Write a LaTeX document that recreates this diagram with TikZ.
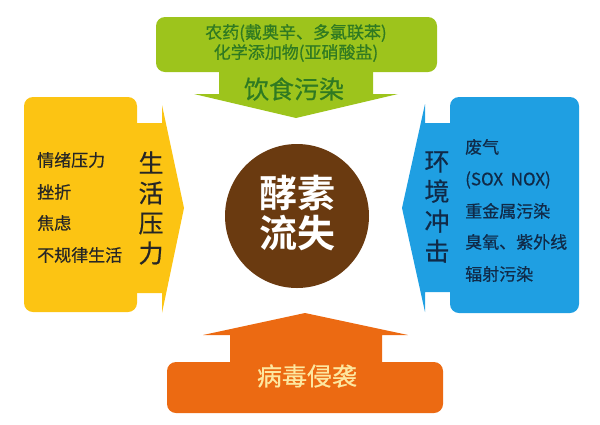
\documentclass[tikz,border=0pt]{standalone}
\usepackage{fontspec}
\newfontfamily\cjk[FakeBold=0.6]{Noto Sans CJK SC}
\newfontfamily\cjkb{Noto Sans CJK SC Bold}
\definecolor{fgreen}{HTML}{9DC41C}
\definecolor{tgreen}{HTML}{2F7A22}
\definecolor{fyellow}{HTML}{FCC413}
\definecolor{fblue}{HTML}{1F9FE2}
\definecolor{tblue}{HTML}{102A48}
\definecolor{forange}{HTML}{EC6A12}
\definecolor{torange}{HTML}{FDE7A0}
\definecolor{fbrown}{HTML}{6A3A10}
\tikzset{
  boxfill/.style={rounded corners=9pt},
  lbl/.style={inner sep=0pt, font=\cjk\fontsize{17}{17}\selectfont},
  big/.style={inner sep=0pt, font=\cjk\fontsize{25}{25}\selectfont},
  vert/.style={inner sep=0pt, align=center, font=\cjk\fontsize{25}{30}\selectfont},
}
\begin{document}
\begin{tikzpicture}[x=1pt,y=-1pt]
\useasboundingbox (0,0) rectangle (600,424);
% green (top)
\fill[fgreen, boxfill] (156,17) rectangle (437,72);
\fill[fgreen] (219,65) -- (373,65) -- (373,94) -- (398,94) -- (296,118) -- (194,94) -- (219,94) -- cycle;
% yellow (left)
\fill[fyellow, boxfill] (24,97) rectangle (137,312);
\fill[fyellow] (130,123) -- (162,123) -- (162,105) -- (184,208) -- (162,313) -- (162,293) -- (130,293) -- cycle;
% blue (right)
\fill[fblue, boxfill] (450,97) rectangle (579,313);
\fill[fblue] (457,123) -- (425,123) -- (425,104) -- (402,208) -- (425,312) -- (425,292) -- (457,292) -- cycle;
% orange (bottom)
\fill[forange, boxfill] (167,362) rectangle (443,413);
\fill[forange] (230,370) -- (230,335) -- (203,335) -- (305,313) -- (408,335) -- (382,335) -- (382,370) -- cycle;
% centre
\node[circle, fill=fbrown, minimum size=144pt, inner sep=0pt] (core) at (297,216) {};
\node[inner sep=0pt, align=center, text=white, font=\cjkb\fontsize{38}{40}\selectfont] (coret) at (297,213) {酵素\\流失};
% texts green
\node[lbl, text=tgreen] (g1) at (296,33) {农药(戴奥辛、多氯联苯)};
\node[lbl, text=tgreen] (g2) at (296,53) {化学添加物(亚硝酸盐)};
\node[big, text=tgreen] (g3) at (294,89) {饮食污染};
% yellow texts
\node[lbl, anchor=west, text=black!85] (y1) at (37,160) {情绪压力};
\node[lbl, anchor=west, text=black!85] (y2) at (37,192) {挫折};
\node[lbl, anchor=west, text=black!85] (y3) at (37,223) {焦虑};
\node[lbl, anchor=west, text=black!85] (y4) at (37,255) {不规律生活};
\node[vert, text=black!85] (yv) at (151,208) {生\\活\\压\\力};
% blue texts
\node[vert, text=tblue] (bv) at (437,207) {环\\境\\冲\\击};
\node[lbl, anchor=west, text=tblue] (b1) at (465,147) {废气};
\node[lbl, anchor=west, text=tblue] (b2) at (465,180) {(SOX\ \ NOX)};
\node[lbl, anchor=west, text=tblue] (b3) at (465,211) {重金属污染};
\node[lbl, anchor=west, text=tblue] (b4) at (465,242) {臭氧、紫外线};
\node[lbl, anchor=west, text=tblue] (b5) at (465,274) {辐射污染};
% orange text
\node[big, text=torange] (o1) at (307,376) {病毒侵袭};
\end{tikzpicture}
\end{document}
